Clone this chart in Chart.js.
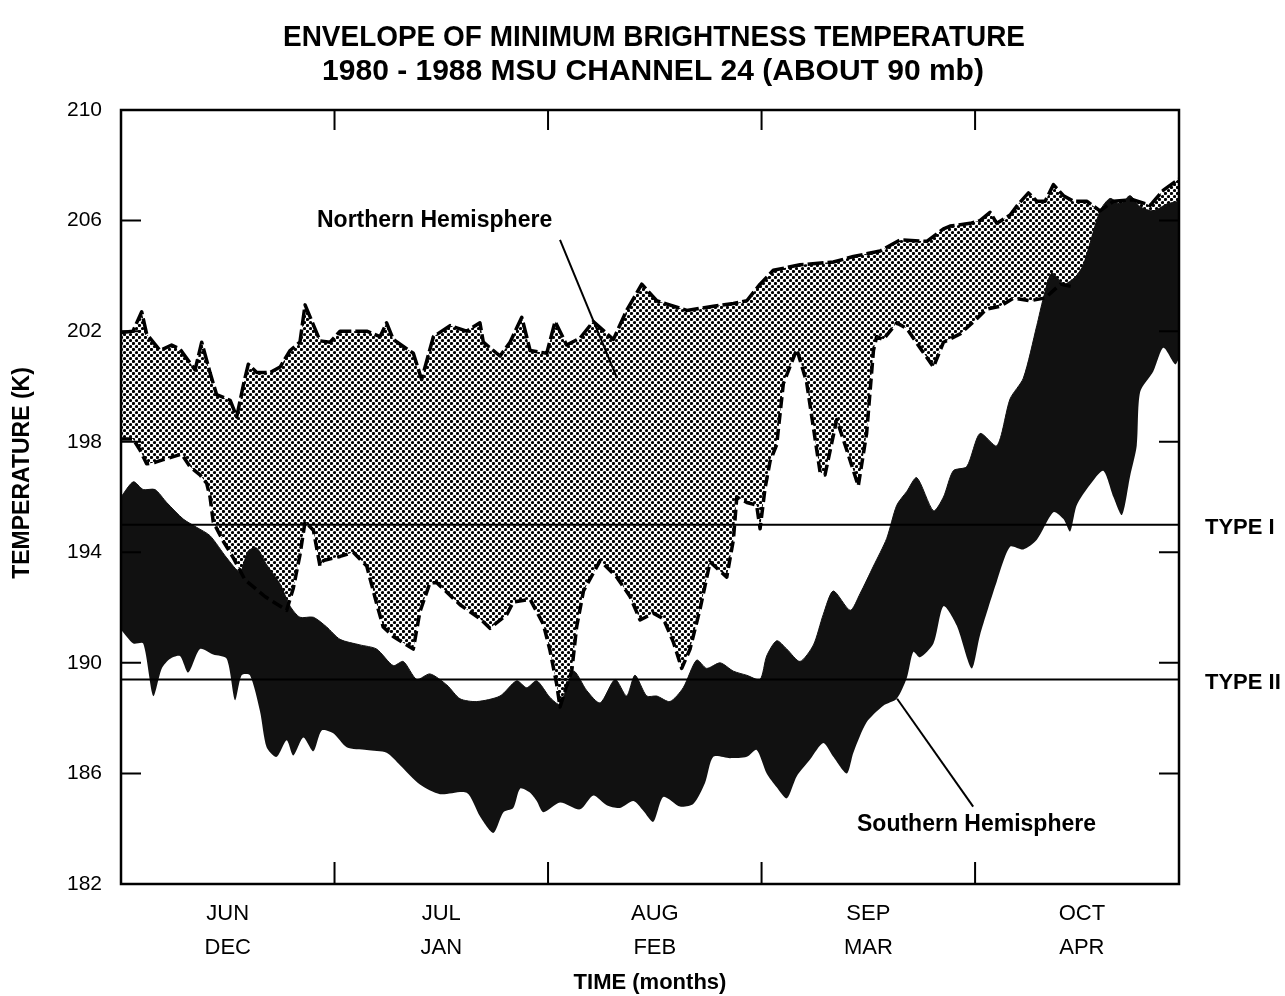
<!DOCTYPE html>
<html>
<head>
<meta charset="utf-8">
<title>Envelope of Minimum Brightness Temperature</title>
<script src="https://cdn.jsdelivr.net/npm/chart.js@4.4.1/dist/chart.umd.min.js"></script>
<style>
  html, body { margin: 0; padding: 0; background: #fff; }
  #wrap { width: 1285px; height: 996px; }
  canvas { display: block; }
</style>
</head>
<body>
<div id="wrap"><canvas id="c" width="1285" height="996"></canvas></div>
<script>
// ---- Data (x in months from the start of June / December, y in kelvin) ----
const monthsNorth = ['JUN', 'JUL', 'AUG', 'SEP', 'OCT'];
const monthsSouth = ['DEC', 'JAN', 'FEB', 'MAR', 'APR'];
const monthCenters = [0.5, 1.5, 2.5, 3.5, 4.5];
const monthEdges = [1, 2, 3, 4];
const xEnd = 4.955;
const tempTicks = [182, 186, 190, 194, 198, 202, 206, 210];

// Northern Hemisphere envelope: upper edge
const nhUpperMonth = [0, 0.056, 0.097, 0.120, 0.183, 0.237, 0.276, 0.347, 0.378, 0.417, 0.448, 0.511, 0.542, 0.573, 0.596, 0.636, 0.698, 0.745, 0.792, 0.838, 0.862, 0.932, 0.979, 1.026, 1.151, 1.213, 1.244, 1.275, 1.369, 1.408, 1.463, 1.541, 1.619, 1.681, 1.697, 1.775, 1.822, 1.877, 1.916, 1.994, 2.033, 2.087, 2.150, 2.212, 2.306, 2.368, 2.439, 2.509, 2.650, 2.774, 2.868, 2.931, 2.993, 3.055, 3.180, 3.336, 3.430, 3.555, 3.649, 3.774, 3.852, 3.883, 3.977, 4.023, 4.070, 4.102, 4.164, 4.203, 4.250, 4.289, 4.328, 4.367, 4.414, 4.460, 4.523, 4.585, 4.648, 4.742, 4.820, 4.882, 4.945, 4.955];
const nhUpperK = [201.95, 202.0, 202.7, 201.9, 201.3, 201.5, 201.35, 200.6, 201.6, 200.5, 199.7, 199.5, 198.9, 200.05, 200.8, 200.5, 200.5, 200.7, 201.3, 201.6, 202.95, 201.65, 201.6, 202.0, 202.0, 201.8, 202.3, 201.7, 201.2, 200.25, 201.8, 202.2, 202.0, 202.3, 201.6, 201.1, 201.6, 202.5, 201.3, 201.2, 202.35, 201.5, 201.75, 202.35, 201.7, 202.75, 203.7, 203.1, 202.75, 202.9, 203.0, 203.1, 203.7, 204.2, 204.4, 204.5, 204.7, 204.9, 205.3, 205.25, 205.7, 205.8, 205.9, 206.0, 206.3, 205.9, 206.2, 206.6, 207.0, 206.7, 206.7, 207.3, 206.9, 206.7, 206.7, 206.35, 206.7, 206.75, 206.55, 207.1, 207.45, 207.5];

// Northern Hemisphere envelope: lower edge
const nhLowerMonth = [0, 0.056, 0.089, 0.120, 0.159, 0.198, 0.284, 0.323, 0.370, 0.401, 0.417, 0.432, 0.479, 0.526, 0.581, 0.674, 0.776, 0.807, 0.838, 0.862, 0.901, 0.932, 0.948, 1.026, 1.088, 1.151, 1.197, 1.228, 1.275, 1.369, 1.400, 1.447, 1.479, 1.588, 1.681, 1.728, 1.807, 1.837, 1.916, 1.978, 2.009, 2.040, 2.056, 2.080, 2.111, 2.134, 2.166, 2.244, 2.322, 2.384, 2.431, 2.493, 2.540, 2.587, 2.626, 2.665, 2.712, 2.759, 2.837, 2.868, 2.884, 2.931, 2.977, 2.993, 3.016, 3.040, 3.071, 3.102, 3.165, 3.211, 3.274, 3.297, 3.352, 3.399, 3.453, 3.492, 3.524, 3.539, 3.570, 3.633, 3.680, 3.742, 3.805, 3.852, 3.930, 4.008, 4.054, 4.117, 4.180, 4.258, 4.328, 4.400, 4.460, 4.500, 4.585, 4.770, 4.870, 4.955];
const nhLowerK = [198.1, 198.1, 197.7, 197.2, 197.25, 197.35, 197.55, 197.1, 196.8, 196.5, 196.0, 195.1, 194.4, 193.8, 193.0, 192.4, 191.9, 192.7, 193.9, 195.1, 194.8, 193.5, 193.7, 193.85, 194.0, 193.5, 192.15, 191.3, 190.95, 190.5, 191.85, 192.9, 192.9, 192.1, 191.6, 191.25, 191.75, 192.2, 192.3, 191.4, 190.45, 189.25, 188.4, 189.0, 189.7, 191.3, 192.6, 193.7, 193.1, 192.4, 191.55, 191.8, 191.6, 190.75, 189.8, 190.5, 191.95, 193.65, 193.1, 194.45, 196.0, 195.8, 195.7, 194.85, 196.3, 197.3, 197.9, 200.1, 201.35, 200.15, 196.9, 196.8, 198.8, 197.7, 196.4, 198.3, 201.3, 201.8, 201.7, 202.3, 202.1, 201.4, 200.7, 201.6, 201.9, 202.45, 202.8, 202.9, 203.2, 203.1, 203.2, 203.7, 203.6, 203.8, 205.0, 205.8, 206.3, 206.4];
// beyond this month the northern lower edge lies under the southern band
const nhLowerShownTo = 4.46;

// Southern Hemisphere envelope: upper edge
const shUpperMonth = [0, 0.058, 0.104, 0.159, 0.214, 0.292, 0.355, 0.417, 0.495, 0.557, 0.596, 0.636, 0.682, 0.745, 0.792, 0.838, 0.901, 0.963, 1.026, 1.119, 1.197, 1.275, 1.322, 1.385, 1.447, 1.526, 1.588, 1.666, 1.775, 1.853, 1.900, 1.947, 2.009, 2.056, 2.119, 2.181, 2.244, 2.314, 2.368, 2.407, 2.462, 2.509, 2.571, 2.633, 2.696, 2.743, 2.806, 2.868, 2.931, 2.993, 3.024, 3.071, 3.118, 3.180, 3.243, 3.289, 3.336, 3.415, 3.461, 3.524, 3.586, 3.633, 3.680, 3.727, 3.805, 3.852, 3.898, 3.961, 4.023, 4.102, 4.164, 4.226, 4.289, 4.320, 4.359, 4.414, 4.468, 4.507, 4.585, 4.632, 4.679, 4.726, 4.773, 4.835, 4.898, 4.955];
const shUpperK = [196.0, 196.55, 196.27, 196.27, 195.8, 195.2, 194.9, 194.6, 193.8, 193.3, 194.05, 194.15, 193.55, 192.85, 192.05, 191.65, 191.65, 191.3, 190.85, 190.65, 190.5, 189.9, 190.05, 189.4, 189.6, 189.2, 188.7, 188.6, 188.8, 189.35, 189.1, 189.35, 188.75, 188.5, 189.7, 189.0, 188.55, 189.4, 188.8, 189.55, 188.8, 188.8, 188.6, 189.1, 190.1, 189.8, 190.0, 189.7, 189.55, 189.4, 190.25, 190.8, 190.5, 190.05, 190.65, 191.75, 192.6, 191.9, 192.5, 193.5, 194.5, 195.7, 196.2, 196.7, 195.5, 196.0, 196.95, 197.1, 198.3, 197.85, 199.55, 200.3, 202.2, 203.2, 204.1, 203.7, 203.95, 204.4, 206.35, 206.8, 206.6, 206.9, 206.5, 206.35, 206.6, 206.7];

// Southern Hemisphere envelope: lower edge
const shLowerMonth = [0, 0.058, 0.104, 0.151, 0.191, 0.230, 0.276, 0.315, 0.370, 0.432, 0.495, 0.534, 0.565, 0.604, 0.651, 0.682, 0.729, 0.776, 0.807, 0.854, 0.901, 0.940, 0.994, 1.057, 1.151, 1.244, 1.307, 1.400, 1.494, 1.619, 1.681, 1.744, 1.791, 1.837, 1.869, 1.916, 1.947, 1.978, 2.056, 2.150, 2.212, 2.275, 2.337, 2.400, 2.446, 2.493, 2.540, 2.618, 2.681, 2.735, 2.774, 2.852, 2.931, 2.977, 3.024, 3.071, 3.118, 3.165, 3.227, 3.289, 3.336, 3.399, 3.430, 3.492, 3.570, 3.633, 3.680, 3.711, 3.742, 3.805, 3.852, 3.914, 3.984, 4.023, 4.102, 4.164, 4.226, 4.289, 4.367, 4.414, 4.445, 4.476, 4.539, 4.600, 4.648, 4.688, 4.726, 4.757, 4.773, 4.835, 4.882, 4.937, 4.955];
const shLowerK = [191.2, 190.7, 190.7, 188.8, 189.8, 190.15, 190.25, 189.65, 190.5, 190.3, 190.15, 188.65, 189.55, 189.55, 188.25, 186.95, 186.6, 187.2, 186.65, 187.3, 186.8, 187.55, 187.45, 186.95, 186.85, 186.75, 186.3, 185.6, 185.25, 185.3, 184.45, 183.85, 184.6, 184.75, 185.45, 185.3, 185.0, 184.6, 184.95, 184.7, 185.2, 184.85, 184.75, 185.0, 184.65, 184.25, 185.15, 184.8, 184.9, 185.65, 186.6, 186.55, 186.6, 186.85, 186.0, 185.5, 185.1, 185.9, 186.5, 187.1, 186.6, 186.0, 186.75, 187.85, 188.45, 188.7, 189.45, 190.4, 190.2, 190.7, 192.05, 191.35, 189.8, 191.0, 192.95, 194.2, 194.1, 194.45, 195.45, 195.2, 194.75, 195.7, 196.45, 196.95, 196.0, 195.35, 196.75, 197.85, 199.8, 200.55, 201.4, 200.8, 201.0];

// PSC formation thresholds
const typeNames = ['TYPE I', 'TYPE II'];
const typeK = [195.0, 189.4];

// ---- Presentation ----
const FONT = '"Liberation Sans", Arial, Helvetica, sans-serif';
Chart.defaults.font.family = FONT;
Chart.defaults.color = '#000';

const callouts = [
  { text: 'Northern Hemisphere', at: [0.918, 206.0], from: [2.056, 205.3], to: [2.323, 200.3] },
  { text: 'Southern Hemisphere', at: [3.447, 184.15], from: [3.635, 188.7], to: [3.991, 184.8] }
];

const zip = (xs, ys) => xs.map((x, i) => ({ x: x, y: ys[i] }));

const canvas = document.getElementById('c');
const ctx0 = canvas.getContext('2d');

// dotted screen used for the northern envelope
function makeStipple() {
  const t = document.createElement('canvas');
  t.width = 6; t.height = 6;
  const g = t.getContext('2d');
  g.fillStyle = '#fff';
  g.fillRect(0, 0, 6, 6);
  g.fillStyle = '#000';
  [[1.5, 1.5], [4.5, 4.5]].forEach(([x, y]) => {
    g.beginPath(); g.arc(x, y, 1.6, 0, Math.PI * 2); g.fill();
  });
  return ctx0.createPattern(t, 'repeat');
}
const stipple = makeStipple();

const hidden = { borderWidth: 0, pointRadius: 0, fill: false, borderColor: 'rgba(0,0,0,0)' };

const datasets = [
  // 0: base of the northern fill
  Object.assign({ label: 'nh-lower-base', data: zip(nhLowerMonth, nhLowerK), order: 10 }, hidden),
  // 1: northern stippled envelope
  Object.assign({}, hidden, { label: 'nh-fill', data: zip(nhUpperMonth, nhUpperK), order: 9,
    fill: 0, backgroundColor: stipple }),
  // 2: base of the southern fill
  Object.assign({ label: 'sh-lower', data: zip(shLowerMonth, shLowerK), order: 8, tension: 0.25 }, hidden),
  // 3: southern black envelope
  { label: 'sh-fill', data: zip(shUpperMonth, shUpperK), order: 7, fill: 2,
    backgroundColor: '#111', borderColor: '#111', borderWidth: 1, pointRadius: 0, tension: 0.25 },
  // 4, 5: northern outlines
  { label: 'nh-upper', data: zip(nhUpperMonth, nhUpperK), order: 6, fill: false,
    borderColor: '#000', borderWidth: 3.5, borderDash: [16, 4], pointRadius: 0, borderJoinStyle: 'round' },
  { label: 'nh-lower', data: zip(nhLowerMonth, nhLowerK).filter(p => p.x <= nhLowerShownTo), order: 5, fill: false,
    borderColor: '#000', borderWidth: 3.5, borderDash: [11, 5], pointRadius: 0, borderJoinStyle: 'round' }
];
typeK.forEach((k, i) => {
  datasets.push({ label: typeNames[i], data: [{ x: 0, y: k }, { x: xEnd, y: k }], order: 2 - i,
    fill: false, borderColor: '#000', borderWidth: 2, pointRadius: 0 });
});

const decor = {
  id: 'decor',
  afterDraw(chart) {
    const { ctx, chartArea: a, scales: { x, y } } = chart;
    ctx.save();
    ctx.fillStyle = '#000';
    ctx.strokeStyle = '#000';

    // frame
    ctx.lineWidth = 2.5;
    ctx.strokeRect(a.left, a.top, a.right - a.left, a.bottom - a.top);

    // inward ticks
    ctx.lineWidth = 2;
    ctx.beginPath();
    tempTicks.slice(1, -1).forEach(v => {
      const py = y.getPixelForValue(v);
      ctx.moveTo(a.left, py); ctx.lineTo(a.left + 20, py);
      ctx.moveTo(a.right, py); ctx.lineTo(a.right - 20, py);
    });
    monthEdges.forEach(m => {
      const px = x.getPixelForValue(m);
      ctx.moveTo(px, a.top); ctx.lineTo(px, a.top + 20);
      ctx.moveTo(px, a.bottom); ctx.lineTo(px, a.bottom - 22);
    });
    ctx.stroke();

    // callouts with leader lines
    ctx.lineWidth = 2;
    ctx.font = 'bold 23px ' + FONT;
    ctx.textAlign = 'left';
    ctx.textBaseline = 'middle';
    callouts.forEach(c => {
      ctx.beginPath();
      ctx.moveTo(x.getPixelForValue(c.from[0]), y.getPixelForValue(c.from[1]));
      ctx.lineTo(x.getPixelForValue(c.to[0]), y.getPixelForValue(c.to[1]));
      ctx.stroke();
      ctx.fillText(c.text, x.getPixelForValue(c.at[0]), y.getPixelForValue(c.at[1]));
    });

    // threshold labels
    ctx.font = 'bold 22px ' + FONT;
    typeK.forEach((k, i) => {
      ctx.fillText(typeNames[i], a.right + 26, y.getPixelForValue(k) + 3);
    });

    // title
    ctx.textAlign = 'center';
    ctx.font = 'bold 30px ' + FONT;
    ctx.fillText('ENVELOPE OF MINIMUM BRIGHTNESS TEMPERATURE', 654, 38, 742);
    ctx.fillText('1980 - 1988 MSU CHANNEL 24 (ABOUT 90 mb)', 653, 72, 670);

    // vertical axis title
    ctx.save();
    ctx.translate(23, 473);
    ctx.rotate(-Math.PI / 2);
    ctx.font = 'bold 23px ' + FONT;
    ctx.fillText('TEMPERATURE (K)', 0, 0);
    ctx.restore();

    ctx.restore();
  }
};

new Chart(canvas, {
  type: 'line',
  data: { datasets },
  options: {
    responsive: false,
    animation: false,
    devicePixelRatio: 1,
    layout: { padding: { left: 8, right: 106, top: 110, bottom: 0 } },
    plugins: { legend: { display: false }, tooltip: { enabled: false }, title: { display: false } },
    elements: { line: { tension: 0 } },
    scales: {
      x: {
        type: 'linear',
        min: 0,
        max: xEnd,
        grid: { display: false },
        border: { display: false },
        afterBuildTicks: axis => { axis.ticks = monthCenters.map(v => ({ value: v })); },
        afterFit: axis => { axis.height = 112; },
        ticks: {
          autoSkip: false,
          maxRotation: 0,
          padding: 5,
          font: { size: 22, lineHeight: 1.545 },
          color: '#000',
          callback: (v, i) => [monthsNorth[i], monthsSouth[i]]
        },
        title: {
          display: true,
          text: 'TIME (months)',
          font: { size: 22, weight: 'bold' },
          color: '#000',
          padding: { top: 0, bottom: 0 }
        }
      },
      y: {
        type: 'linear',
        min: 182,
        max: 210,
        grid: { display: false },
        border: { display: false },
        afterBuildTicks: axis => { axis.ticks = tempTicks.map(v => ({ value: v })); },
        afterFit: axis => { axis.width = 113; },
        ticks: { padding: 11, font: { size: 21 }, color: '#000' }
      }
    }
  },
  plugins: [decor]
});
</script>
</body>
</html>
